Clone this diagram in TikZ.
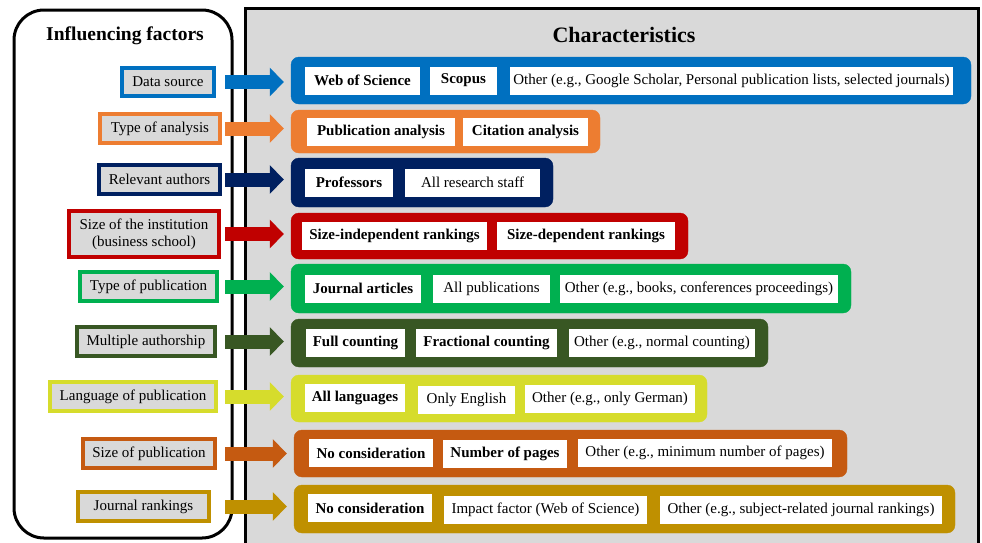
\documentclass[tikz,border=0pt]{standalone}
\usepackage{fontspec}
\setmainfont{Liberation Serif}
\usetikzlibrary{arrows.meta}
\definecolor{cblue}{HTML}{0070C0}
\definecolor{corange}{HTML}{ED7D31}
\definecolor{cnavy}{HTML}{002060}
\definecolor{cred}{HTML}{C00000}
\definecolor{cgreen}{HTML}{00B050}
\definecolor{cdgreen}{HTML}{385723}
\definecolor{cyellow}{HTML}{D6DC2C}
\definecolor{cdorange}{HTML}{C55A11}
\definecolor{cgold}{HTML}{BF9000}
\definecolor{pgray}{HTML}{D9D9D9}
\tikzset{
  fac/.style={draw=#1, line width=3.5pt, fill=pgray, font=\fontsize{15}{17}\selectfont, align=center, inner sep=0pt},
  row/.style={fill=#1, draw=#1, rounded corners=8pt, inner sep=0pt},
  item/.style={fill=white, minimum height=28pt, inner sep=0pt, font=\fontsize{15}{17}\selectfont},
  bitem/.style={item, font=\fontsize{15}{17}\selectfont\bfseries},
  arr/.style={draw=#1, line width=14pt, -{Triangle[width=28pt,length=14pt]}, shorten >=7pt},
  ttl/.style={font=\fontsize{19.5}{22}\selectfont\bfseries}
}
\begin{document}
\begin{tikzpicture}[x=1pt,y=-1pt]
\useasboundingbox (0,0) rectangle (982,542);
% panels
\node[draw=black, line width=3pt, fill=white, rounded corners=30pt, minimum width=218pt, minimum height=528pt, inner sep=0pt] (lp) at (123,274) {};
\node[draw=black, line width=3pt, fill=pgray, minimum width=733pt, minimum height=538pt, inner sep=0pt] (rp) at (611.5,277) {};
\node[ttl] (t1) at (125,36) {Influencing factors};
\node[ttl, font=\fontsize{22}{24}\selectfont\bfseries] (t2) at (624,35) {Characteristics};
\coordinate (ax) at (225,0);
% factors
\node[fac=cblue, minimum width=92pt, minimum height=28pt] (f1) at (168,82) {Data source};
\node[fac=corange, minimum width=120pt, minimum height=29pt] (f2) at (160,128.5) {Type of analysis};
\node[fac=cnavy, minimum width=121pt, minimum height=29pt] (f3) at (159.5,179.5) {Relevant authors};
\node[fac=cred, minimum width=150pt, minimum height=46pt] (f4) at (144,234) {Size of the institution\\(business school)};
\node[fac=cgreen, minimum width=137pt, minimum height=29pt] (f5) at (148.5,286.5) {Type of publication};
\node[fac=cdgreen, minimum width=138pt, minimum height=29pt] (f6) at (146,341.5) {Multiple authorship};
\node[fac=cyellow, minimum width=166pt, minimum height=29pt] (f7) at (133,396.5) {Language of publication};
\node[fac=cdorange, minimum width=132pt, minimum height=29pt] (f8) at (149,453.5) {Size of publication};
\node[fac=cgold, minimum width=131pt, minimum height=29pt] (f9) at (143.5,506.5) {Journal rankings};
% rows
\node[row=cblue, minimum width=680pt, minimum height=47pt] (c1) at (631,80.5) {};
\node[row=corange, minimum width=309pt, minimum height=43pt] (c2) at (445.5,131.5) {};
\node[row=cnavy, minimum width=262pt, minimum height=49pt] (c3) at (422,182.5) {};
\node[row=cred, minimum width=397pt, minimum height=46pt] (c4) at (489.5,236) {};
\node[row=cgreen, minimum width=560pt, minimum height=49pt] (c5) at (571,288.5) {};
\node[row=cdgreen, minimum width=477pt, minimum height=48pt] (c6) at (529.5,343) {};
\node[row=cyellow, minimum width=416pt, minimum height=47pt] (c7) at (499,398.5) {};
\node[row=cdorange, minimum width=553pt, minimum height=47pt] (c8) at (570.5,453.5) {};
\node[row=cgold, minimum width=661pt, minimum height=48pt] (c9) at (624.5,509) {};
% items
\node[bitem, minimum width=115pt] (i1a) at (362.5,80.5) {Web of Science};
\node[bitem, minimum width=67pt] (i1b) at (463.5,80.5) {Scopus};
\node[item, minimum width=443pt] (i1c) at (731.5,80.5) {Other (e.g., Google Scholar, Personal publication lists, selected journals)};
\node[bitem, minimum width=148pt] (i2a) at (381,131.5) {Publication analysis};
\node[bitem, minimum width=125pt] (i2b) at (525.5,131.5) {Citation analysis};
\node[bitem, minimum width=88pt] (i3a) at (349,182.5) {Professors};
\node[item, minimum width=135pt] (i3b) at (472.5,182.5) {All research staff};
\node[bitem, minimum width=185pt] (i4a) at (394.5,236) {Size-independent rankings};
\node[bitem, minimum width=178pt] (i4b) at (586,236) {Size-dependent rankings};
\node[bitem, minimum width=116pt] (i5a) at (363,288.5) {Journal articles};
\node[item, minimum width=117pt] (i5b) at (491.5,288.5) {All publications};
\node[item, minimum width=278pt] (i5c) at (699,288.5) {Other (e.g., books, conferences proceedings)};
\node[bitem, minimum width=99pt] (i6a) at (355.5,343) {Full counting};
\node[bitem, minimum width=141pt] (i6b) at (486.5,343) {Fractional counting};
\node[item, minimum width=186pt] (i6c) at (662,343) {Other (e.g., normal counting)};
\node[bitem, minimum width=100pt] (i7a) at (355,397.5) {All languages};
\node[item, minimum width=97pt] (i7b) at (466.5,399.5) {Only English};
\node[item, minimum width=170pt] (i7c) at (610,399) {Other (e.g., only German)};
\node[bitem, minimum width=124pt] (i8a) at (371,453) {No consideration};
\node[bitem, minimum width=124pt] (i8b) at (505,454) {Number of pages};
\node[item, minimum width=254pt] (i8c) at (705,453) {Other (e.g., minimum number of pages)};
\node[bitem, minimum width=124pt] (i9a) at (370,508) {No consideration};
\node[item, minimum width=203pt] (i9b) at (545.5,510) {Impact factor (Web of Science)};
\node[item, minimum width=282pt] (i9c) at (801,510) {Other (e.g., subject-related journal rankings)};
% arrows
\draw[arr=cblue] (f1.east -| ax) -- (f1.east -| c1.west);
\draw[arr=corange] (f2.east -| ax) -- (f2.east -| c2.west);
\draw[arr=cnavy] (f3.east -| ax) -- (f3.east -| c3.west);
\draw[arr=cred] (f4.east -| ax) -- (f4.east -| c4.west);
\draw[arr=cgreen] (f5.east -| ax) -- (f5.east -| c5.west);
\draw[arr=cdgreen] (f6.east -| ax) -- (f6.east -| c6.west);
\draw[arr=cyellow] (f7.east -| ax) -- (f7.east -| c7.west);
\draw[arr=cdorange] (f8.east -| ax) -- (f8.east -| c8.west);
\draw[arr=cgold] (f9.east -| ax) -- (f9.east -| c9.west);
\end{tikzpicture}
\end{document}
